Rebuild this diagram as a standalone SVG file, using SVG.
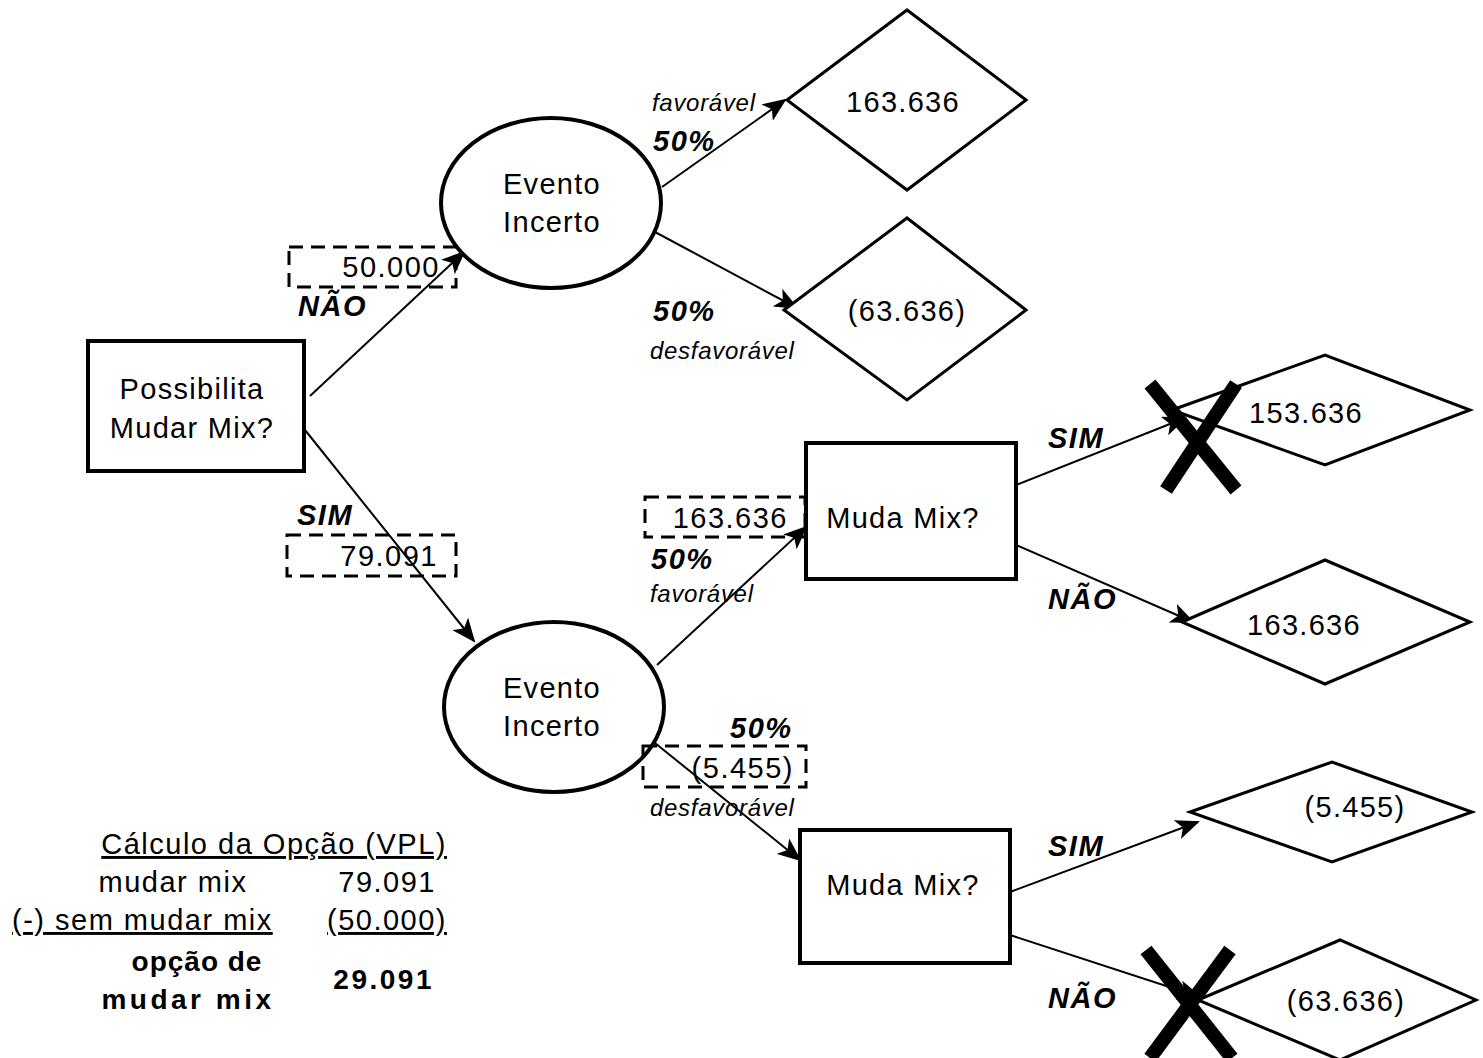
<svg xmlns="http://www.w3.org/2000/svg" width="1483" height="1058" viewBox="0 0 1483 1058">
<defs>
<marker id="arrL" viewBox="0 0 12 10" refX="11" refY="5" markerWidth="24" markerHeight="20" markerUnits="userSpaceOnUse" orient="auto"><path d="M0,0 L12,5 L0,10 L3,5 z" fill="#000"/></marker>
</defs>
<style>
text{font-family:"Liberation Sans",Arial,sans-serif;fill:#000}
.n{font-size:29px;text-anchor:middle;letter-spacing:1.3px}
.shape{fill:#fff;stroke:#000;stroke-width:4}
.dia{fill:#fff;stroke:#000;stroke-width:3}
.dash{fill:none;stroke:#000;stroke-width:3;stroke-dasharray:14,8}
.lbl{font-size:29px;font-style:italic;font-weight:bold;letter-spacing:1.5px}
.sm{font-size:24px;font-style:italic;letter-spacing:0.7px}
.c{stroke:#000;stroke-width:2;fill:none;marker-end:url(#arrL)}
.x{stroke:#000;stroke-width:14;stroke-linecap:butt}
.t{font-size:29px;letter-spacing:1.5px}
.v{font-size:29px;letter-spacing:1.5px}
.b{font-size:28px;font-weight:bold}
</style>
<rect width="1483" height="1058" fill="#fff"/>

<g id="connectors">
<line class="c" x1="310" y1="396" x2="464" y2="252"/>
<line class="c" x1="305" y1="430" x2="474" y2="641"/>
<line class="c" x1="662" y1="187" x2="785" y2="100"/>
<line class="c" x1="655" y1="232" x2="797" y2="308"/>
<line class="c" x1="657" y1="665" x2="806" y2="527"/>
<line class="c" x1="655" y1="743" x2="800" y2="860"/>
<line class="c" x1="1016" y1="485" x2="1185" y2="418"/>
<line class="c" x1="1016" y1="545" x2="1193" y2="622"/>
<line class="c" x1="1010" y1="892" x2="1198" y2="822"/>
<line class="c" x1="1010" y1="935" x2="1200" y2="997"/>
</g>

<g id="decision-root"><rect class="shape" x="88" y="341" width="216" height="130"/><text class="n" x="192" y="399">Possibilita</text><text class="n" x="192" y="438">Mudar Mix?</text></g>

<g id="event-1"><ellipse class="shape" cx="551" cy="203" rx="110" ry="85"/><text class="n" x="552" y="194">Evento</text><text class="n" x="552" y="232">Incerto</text></g>
<g id="event-2"><ellipse class="shape" cx="554" cy="707" rx="110" ry="85"/><text class="n" x="552" y="698">Evento</text><text class="n" x="552" y="736">Incerto</text></g>

<g id="decision-2"><rect class="shape" x="806" y="443" width="210" height="136"/><text class="n" x="903" y="528">Muda Mix?</text></g>
<g id="decision-3"><rect class="shape" x="800" y="830" width="210" height="133"/><text class="n" x="903" y="895">Muda Mix?</text></g>

<g id="end-1"><polygon class="dia" points="787,100 907,10 1026,100 907,190"/><text class="n" x="903" y="112">163.636</text></g>
<g id="end-2"><polygon class="dia" points="784,310 907,218 1026,310 907,400"/><text class="n" x="907" y="321">(63.636)</text></g>
<g id="end-3"><polygon class="dia" points="1172,410 1325,355 1470,410 1325,465"/><text class="n" x="1306" y="423">153.636</text></g>
<g id="end-4"><polygon class="dia" points="1182,622 1325,560 1470,622 1325,684"/><text class="n" x="1304" y="635">163.636</text></g>
<g id="end-5"><polygon class="dia" points="1190,812 1332,762 1472,812 1332,862"/><text class="n" x="1355" y="817">(5.455)</text></g>
<g id="end-6"><polygon class="dia" points="1198,1000 1340,940 1476,1000 1340,1060"/><text class="n" x="1346" y="1011">(63.636)</text></g>

<g id="xmark-1"><line class="x" x1="1150" y1="384" x2="1236" y2="490"/><line class="x" x1="1236" y1="384" x2="1166" y2="490"/></g>
<g id="xmark-2"><line class="x" x1="1146" y1="950" x2="1232" y2="1058"/><line class="x" x1="1230" y1="950" x2="1150" y2="1058"/></g>

<g id="value-1"><rect class="dash" x="289" y="247" width="167" height="40"/><text class="v" x="440" y="277" text-anchor="end">50.000</text></g>
<g id="value-2"><rect class="dash" x="287" y="535" width="169" height="41"/><text class="v" x="438" y="566" text-anchor="end">79.091</text></g>
<g id="value-3"><rect class="dash" x="645" y="497" width="160" height="40"/><text class="v" x="788" y="528" text-anchor="end" letter-spacing="1">163.636</text></g>
<g id="value-4"><rect class="dash" x="643" y="746" width="163" height="41"/><text class="v" x="794" y="778" text-anchor="end" letter-spacing="0">(5.455)</text></g>

<g id="labels">
<text class="lbl" x="298" y="316">NÃO</text>
<text class="lbl" x="297" y="525">SIM</text>
<text class="sm" x="652" y="111">favorável</text>
<text class="lbl" x="653" y="151">50%</text>
<text class="lbl" x="653" y="321">50%</text>
<text class="sm" x="650" y="359">desfavorável</text>
<text class="lbl" x="651" y="569">50%</text>
<text class="sm" x="650" y="602">favorável</text>
<text class="lbl" x="730" y="738">50%</text>
<text class="sm" x="650" y="816">desfavorável</text>
<text class="lbl" x="1048" y="448">SIM</text>
<text class="lbl" x="1048" y="609">NÃO</text>
<text class="lbl" x="1048" y="856">SIM</text>
<text class="lbl" x="1048" y="1008">NÃO</text>
</g>

<g id="calc">
<text class="t" x="447" y="854" text-anchor="end" text-decoration="underline">Cálculo da Opção (VPL)</text>
<text class="t" x="173" y="892" text-anchor="middle">mudar mix</text>
<text class="t" x="436" y="892" text-anchor="end" letter-spacing="2.5">79.091</text>
<text class="t" x="12" y="930" text-decoration="underline" letter-spacing="2">(-) sem mudar mix</text>
<text class="t" x="447" y="930" text-anchor="end" text-decoration="underline" letter-spacing="2">(50.000)</text>
<text class="b" x="197" y="971" text-anchor="middle" letter-spacing="1">opção de</text>
<text class="b" x="188" y="1009" text-anchor="middle" letter-spacing="3.5">mudar mix</text>
<text class="b" x="434" y="989" text-anchor="end" letter-spacing="2.5">29.091</text>
</g>
</svg>
